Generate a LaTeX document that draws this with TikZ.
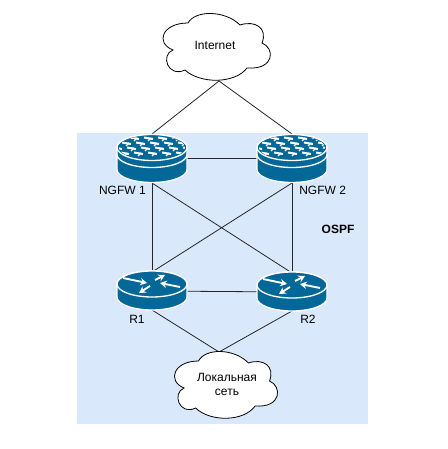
\documentclass[tikz,border=0pt]{standalone}
\usepackage{fontspec}
\setmainfont{Liberation Sans}
\usepackage{xcolor}
\usepackage{tikz}
\usetikzlibrary{positioning,arrows.meta}
\definecolor{regionblue}{HTML}{DAE8FC}
\definecolor{devblue}{HTML}{036897}
\tikzset{
  linkline/.style={draw=black!85,line width=0.6pt},
  devnode/.style={minimum width=52.5pt,inner sep=0pt,outer sep=0pt},
  txt/.style={font=\fontsize{9}{11}\selectfont,align=center,inner sep=0pt},
  devbody/.style={fill=devblue,draw=white,line width=1pt},
  arrowline/.style={draw=white,line width=1.4pt,-{Stealth[length=5pt,width=5.5pt]}},
  cloudshape/.style={fill=white,draw=black,line width=0.6pt},
  pics/routericon/.style={code={
    \path[devbody] (-35,-7) -- (-35,6) arc[x radius=35,y radius=13,start angle=180,end angle=0] -- (35,-7) arc[x radius=35,y radius=13,start angle=0,end angle=-180] -- cycle;
    \path[devbody] (0,-7) ellipse[x radius=35,y radius=13];
    \draw[arrowline] (-29,-13) -- (-5,-8);
    \draw[arrowline] (3,-11) -- (13,-16);
    \draw[arrowline] (28,-4) -- (8,-8);
    \draw[arrowline] (-2,-5) -- (-13,2);
  }},
  pics/fwicon/.style={code={
    \path[devbody] (-35,-11) -- (-35,11) arc[x radius=35,y radius=13,start angle=180,end angle=0] -- (35,-11) arc[x radius=35,y radius=13,start angle=0,end angle=-180] -- cycle;
    \draw[white,line width=1pt] (-35,-4) arc[x radius=35,y radius=13,start angle=180,end angle=0];
    \path[devbody] (0,-11) ellipse[x radius=35,y radius=13];
    \begin{scope}
      \clip (0,-11) ellipse[x radius=33,y radius=12];
      \foreach \yy/\off in {-21/0,-16/6,-11/-3,-6/4}{
        \foreach \xx in {-36,-22,...,36}{
          \draw[white,line width=1.5pt] (\xx+\off,\yy) -- ++(9,1.5);
          \draw[white,line width=1pt] (\xx+\off+4,\yy+3.5) -- ++(3,-3);
        }
      }
    \end{scope}
  }},
  pics/cloudicon/.style={code={
    \path[cloudshape] (38,13) .. controls (12,13) and (5,33) .. (23,40)
      .. controls (10,45) and (18,68) .. (35,60)
      .. controls (50,74) and (85,74) .. (97,58)
      .. controls (125,60) and (125,38) .. (112,33)
      .. controls (118,18) and (105,10) .. (90,15)
      .. controls (75,0) and (45,0) .. (38,13) -- cycle;
  }}
}
\begin{document}
\begin{tikzpicture}[x=0.75pt,y=-0.75pt]
  \useasboundingbox (0,0) rectangle (448,449);
  \fill[regionblue] (77,133) rectangle (368,424);

  % device places
  \node[devnode,minimum height=36.75pt] (fw1) at (152,158.5) {};
  \node[devnode,minimum height=36.75pt] (fw2) at (292,158.5) {};
  \node[devnode,minimum height=28.5pt] (r1) at (152,291) {};
  \node[devnode,minimum height=28.5pt] (r2) at (292,292) {};
  \coordinate (inet) at (219,81);
  \coordinate (lan) at (219,352);

  % links
  \draw[linkline] (inet) -- (fw1.north);
  \draw[linkline] (inet) -- (fw2.north);
  \draw[linkline] (fw1) -- (fw2);
  \draw[linkline] (fw1.south) -- (r1.north);
  \draw[linkline] (fw1.south) -- (r2.north);
  \draw[linkline] (fw2.south) -- (r1.north);
  \draw[linkline] (fw2.south) -- (r2.north);
  \draw[linkline] (r1) -- (r2);
  \draw[linkline] (r1.south) -- (lan);
  \draw[linkline] (r2.south) -- (lan);

  % icons
  \pic at (fw1) {fwicon};
  \pic at (fw2) {fwicon};
  \pic at (r1) {routericon};
  \pic at (r2) {routericon};
  \pic at (150,10) {cloudicon};
  \pic[xscale=0.96] at (162,348) {cloudicon};

  % labels
  \node[txt] (inetlabel) at (215,45) {Internet};
  \node[txt] (lanlabel) at (227,384.5) {Локальная\\сеть};
  \node[txt,left] (fw1label) at (146,190) {NGFW 1};
  \node[txt,right] (fw2label) at (299,190) {NGFW 2};
  \node[txt,font=\fontsize{9}{11}\selectfont\bfseries] (ospflabel) at (338,229.5) {OSPF};
  \node[txt] (r1label) at (137,319.5) {R1};
  \node[txt] (r2label) at (308,319.5) {R2};
\end{tikzpicture}
\end{document}
